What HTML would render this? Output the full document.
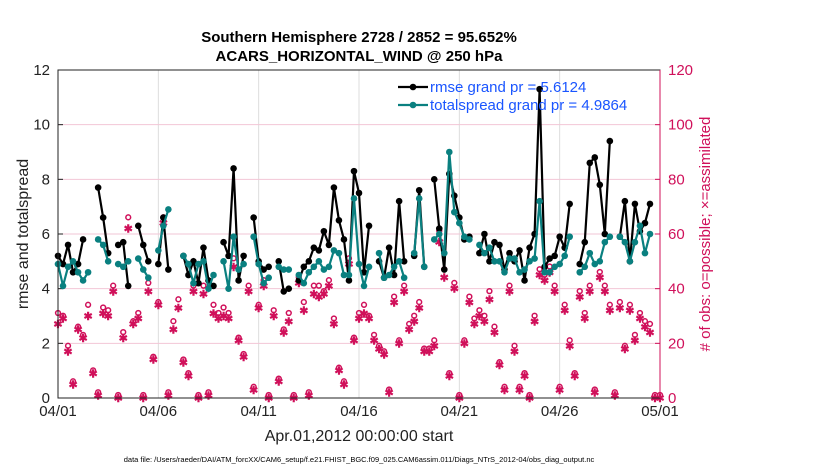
<!DOCTYPE html>
<html><head><meta charset="utf-8"><style>
body{margin:0;background:#fff;font-family:"Liberation Sans",sans-serif}
svg text{font-family:"Liberation Sans",sans-serif}
</style></head><body>
<svg id="c" width="830" height="470"></svg>
<script>
const dayTicks=['04/01','04/06','04/11','04/16','04/21','04/26','05/01'];
const leftTicks=[0,2,4,6,8,10,12];
const rightTicks=[0,20,40,60,80,100,120];
const rmse=[5.2,4.9,5.6,4.6,4.9,5.8,null,null,7.7,6.6,5.3,null,5.6,5.7,4.1,null,6.3,5.6,5.0,null,4.9,6.6,4.7,null,null,5.2,4.5,5.0,4.2,5.5,4.3,4.1,null,5.7,5.2,8.4,4.3,5.2,null,6.6,5.0,4.7,4.8,null,5.0,3.9,4.0,null,4.3,4.8,5.0,5.5,5.4,6.1,5.6,7.7,6.5,5.8,4.3,8.3,7.5,4.6,6.3,null,5.0,4.4,5.5,4.5,7.2,5.0,null,5.2,7.6,4.8,null,8.0,6.2,4.7,8.2,7.4,6.6,5.8,5.9,null,5.3,6.0,5.0,5.7,5.6,4.7,5.3,5.0,5.4,4.3,5.5,6.0,11.3,4.8,5.1,5.2,5.9,5.5,7.1,null,4.9,5.7,8.6,8.8,7.8,6.0,9.4,null,5.9,7.2,5.0,7.1,6.1,6.4,7.1,null,null];
const spread=[4.9,4.1,4.8,5.0,4.6,4.3,4.6,null,5.8,5.6,5.0,null,4.9,4.8,5.0,null,5.1,4.7,4.4,null,5.4,6.3,6.9,null,null,5.2,4.9,4.2,4.9,5.0,4.0,4.5,null,5.0,4.0,5.9,4.7,4.9,null,5.9,4.9,4.2,4.4,null,4.8,4.7,4.7,null,4.5,4.2,4.6,4.8,5.0,4.7,4.8,5.4,5.3,4.5,4.5,7.3,4.9,4.1,4.8,null,5.3,4.4,4.5,4.8,5.0,4.4,null,5.3,7.3,4.8,null,5.8,6.0,5.3,9.0,6.8,6.4,5.9,5.8,null,5.6,5.3,5.5,5.0,5.0,4.6,5.1,5.1,4.6,4.7,5.0,5.1,7.2,4.6,4.6,4.8,4.9,5.2,5.9,null,4.6,4.8,5.3,4.9,5.0,5.7,5.9,null,5.9,5.7,5.0,5.7,6.3,5.3,6.0,null,null];
const possible=[30,29,18,5,25,22,33,9,1,32,31,40,0,23,65,27,30,0,41,14,34,65,1,27,35,13,8,40,0,40,1,33,30,32,30,50,21,15,40,3,33,42,0,31,6,24,30,0,43,34,1,40,40,38,42,28,10,5,50,21,30,33,29,22,18,16,2,36,20,40,26,29,34,17,17,20,60,46,8,41,0,20,36,28,31,29,38,25,12,3,40,18,3,8,0,29,46,44,47,40,3,33,20,8,38,30,40,2,45,40,33,1,34,18,33,22,30,27,26,0,0];
const assim=[27,29,17,5,25,22,30,9,1,31,30,39,0,22,62,27,29,0,39,14,34,64,1,25,33,13,8,39,0,38,1,31,29,30,29,48,21,15,39,3,33,41,0,30,6,24,28,0,42,32,1,38,37,38,41,27,10,5,49,21,29,31,29,21,18,16,2,35,20,39,25,28,33,17,17,19,57,44,8,40,0,20,35,27,30,28,36,24,12,3,39,17,3,8,0,28,45,43,46,39,3,32,19,8,37,29,39,2,44,39,32,1,33,18,32,21,29,26,24,0,0];
const NS='http://www.w3.org/2000/svg';
const svg=document.getElementById('c');
const X0=58,X1=660,Y0=398,Y1=70;
function xs(i){return X0+(X1-X0)*i/120;}
function yl(v){return Y0-(Y0-Y1)*v/12;}
function yr(v){return Y0-(Y0-Y1)*v/120;}
function mk(t,a,p){const e=document.createElementNS(NS,t);for(const k in a)e.setAttribute(k,a[k]);(p||svg).appendChild(e);return e;}
const bg=mk('rect',{x:X0,y:Y1,width:X1-X0,height:Y0-Y1,fill:'#fff'});


dayTicks.forEach((t,k)=>{const x=X0+(X1-X0)*k/6;
 const g=mk('line',{x1:x,x2:x,y1:Y1,y2:Y0,stroke:'#ddd','stroke-width':1});
 
 
 const tl=mk('text',{x:x,y:Y0+18,'text-anchor':'middle','font-size':15,fill:'#222'});tl.textContent=t;
 
 });
rightTicks.forEach(v=>{const y=yr(v);
 if(v>0&&v<120){const g=mk('line',{x1:X0,x2:X1,y1:y,y2:y,stroke:'#f2c6d6','stroke-width':1});
 
 }
 mk('line',{x1:X1,x2:X1-5,y1:y,y2:y,stroke:'#d0105a'});
 const tl=mk('text',{x:X1+8,y:y+5,'font-size':15,fill:'#d0105a'});tl.textContent=v;
 
 });
leftTicks.forEach(v=>{const y=yl(v);
 mk('line',{x1:X0,x2:X0+5,y1:y,y2:y,stroke:'#222'});
 const tl=mk('text',{x:X0-8,y:y+5,'text-anchor':'end','font-size':15,fill:'#222'});tl.textContent=v;
 
 });
possible.forEach((v,i)=>{if(v==null)return;const c=mk('circle',{cx:xs(i),cy:yr(v)-3,r:2.4,fill:'none',stroke:'#d0105a','stroke-width':1.5});
 
 });
assim.forEach((v,i)=>{if(v==null)return;const t=mk('text',{x:xs(i),y:yr(v)+4,'text-anchor':'middle','font-size':11,'font-weight':'bold',fill:'#d0105a'});t.textContent='✱';
 
 });
function series(arr,col,name){
 let d='',pen=false;arr.forEach((v,i)=>{if(v==null){pen=false;return;}d+=(pen?'L':'M')+xs(i)+' '+yl(v);pen=true;});
 const p=mk('path',{d:d,fill:'none',stroke:col,'stroke-width':2.2});
 
 
 arr.forEach((v,i)=>{if(v==null)return;const c=mk('circle',{cx:xs(i),cy:yl(v),r:3.3,fill:col});
  
  });
}
series(rmse,'#000','rmse');
series(spread,'#0a8080','totalspread');
const fr=mk('rect',{x:X0,y:Y1,width:X1-X0,height:Y0-Y1,fill:'none',stroke:'#222','stroke-width':1});


const ra=mk('line',{x1:X1,x2:X1,y1:Y1,y2:Y0,stroke:'#d0105a','stroke-width':1});


[['#000','rmse grand pr = 5.6124',92],['#0a8080','totalspread grand pr = 4.9864',110]].forEach((l,k)=>{
 const g=mk('g',{});
 
 
 mk('line',{x1:398,x2:428,y1:l[2]-5,y2:l[2]-5,stroke:l[0],'stroke-width':2.2},g);
 mk('circle',{cx:413,cy:l[2]-5,r:3.3,fill:l[0]},g);
 const t=mk('text',{x:430,y:l[2],'font-size':15,fill:'#1a55ff'},g);t.textContent=l[1];});
function txt(s,a,name){const t=mk('text',a);t.textContent=s;
 
 return t;}
txt('Southern Hemisphere 2728 / 2852 = 95.652%',{x:359,y:42,'text-anchor':'middle','font-size':15,'font-weight':'bold',fill:'#000'},'chart-title');
txt('ACARS_HORIZONTAL_WIND @ 250 hPa',{x:359,y:61,'text-anchor':'middle','font-size':15,'font-weight':'bold',fill:'#000'},'chart-subtitle');
txt('Apr.01,2012 00:00:00 start',{x:359,y:441,'text-anchor':'middle','font-size':16,fill:'#222'},'x-axis-title');
txt('rmse and totalspread',{x:0,y:0,'text-anchor':'middle','font-size':16,fill:'#222',transform:'translate(28,234) rotate(-90)'},'left-y-axis-title');
txt('# of obs: o=possible; \u00d7=assimilated',{x:0,y:0,'text-anchor':'middle','font-size':15,fill:'#d0105a',transform:'translate(710,234) rotate(-90)'},'right-y-axis-title');
txt('data file: /Users/raeder/DAI/ATM_forcXX/CAM6_setup/f.e21.FHIST_BGC.f09_025.CAM6assim.011/Diags_NTrS_2012-04/obs_diag_output.nc',{x:359,y:462,'text-anchor':'middle','font-size':7.5,fill:'#000'},'data-file-note');
</script>
</body></html>
